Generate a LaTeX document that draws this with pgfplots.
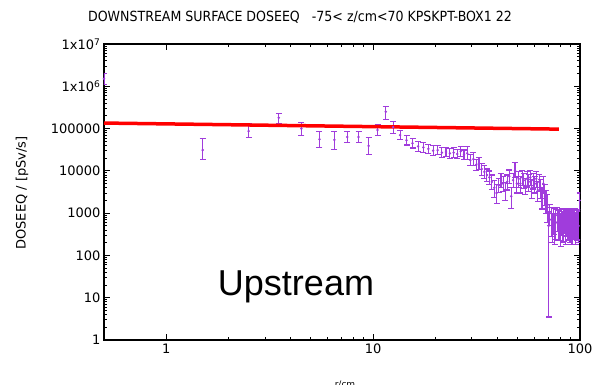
\documentclass[border=0pt]{standalone}
\usepackage{pgfplots}
\pgfplotsset{compat=1.18}
\usepackage{fontspec}
\setmainfont{DejaVu Sans}
\newfontfamily\condfont{DejaVu Sans Condensed}
\newfontfamily\arialfont{Liberation Sans}
\definecolor{dviolet}{RGB}{160,60,220}
\pgfplotstableread{
x y ep em
0.5 1500000 0.33 0.27
1.5 31000 0.9 0.4
2.5 87000 0.55 0.31
3.5 180000 0.28 0.25
4.5 100000 0.4 0.3
5.5 56000 0.55 0.37
6.5 54000 0.6 0.4
7.5 63000 0.38 0.25
8.5 63000 0.38 0.25
9.5 39000 0.6 0.38
10.5 92000 0.33 0.25
11.5 250000 0.36 0.33
12.5 108000 0.37 0.28
13.5 70000 0.28 0.21
14.5 53000 0.3 0.23
15.5 45000 0.3 0.23
16.5 38000 0.3 0.23
17.5 36000 0.3 0.23
18.5 33000 0.3 0.23
19.5 30000 0.3 0.23
20.5 31000 0.3 0.23
21.5 27000 0.3 0.23
22.5 28000 0.3 0.23
23.5 26000 0.3 0.23
24.5 27000 0.3 0.23
25.5 25000 0.3 0.23
26.5 29000 0.3 0.23
27.5 24000 0.3 0.23
28.5 26000 0.45 0.3
29.5 18000 0.35 0.27
30.5 19000 0.4 0.28
31.5 14000 0.35 0.28
32.5 15000 0.4 0.28
33.5 11000 0.38 0.28
34.5 9500 0.4 0.3
35.5 8000 0.38 0.3
36.5 7000 0.42 0.33
37.5 5500 0.45 0.35
38.5 4000 0.5 0.4
39.5 3000 0.6 0.43
40.5 4500 0.45 0.33
41.5 6000 0.42 0.33
42.5 5000 0.45 0.36
43.5 3500 0.5 0.42
44.5 5500 0.45 0.36
45.5 7500 0.4 0.33
46.5 2500 0.6 0.48
47.5 6000 0.42 0.33
48.5 10000 0.6 0.3
49.5 5000 0.5 0.4
50.5 6500 0.45 0.38
51.5 5000 0.5 0.4
52.5 7000 0.45 0.36
53.5 6000 0.45 0.36
54.5 4500 0.5 0.4
55.5 6500 0.45 0.36
56.5 5500 0.5 0.4
57.5 7000 0.45 0.36
58.5 4000 0.55 0.45
59.5 6000 0.45 0.38
60.5 5000 0.5 0.4
61.5 6500 0.45 0.38
62.5 3500 0.6 0.45
63.5 5500 0.5 0.4
64.5 4000 0.55 0.45
65.5 2500 0.6 0.5
66.5 5000 0.5 0.4
67.5 3000 0.6 0.5
68.5 2000 0.7 0.5
69.5 1500 0.8 0.6
70.5 500 1.2 0.993
71.5 1000 0.6 0.5
72.5 700 0.9 0.6
73.5 500 1.0 0.6
74.5 800 0.6 0.6
75.5 450 1.2 0.6
76.5 600 1.0 0.6
77.5 900 0.5 0.6
78.5 550 1.1 0.6
79.5 650 0.9 0.65
80.5 400 1.5 0.6
81.5 750 0.7 0.6
82.5 500 1.2 0.6
83.5 600 1.0 0.65
84.5 850 0.5 0.6
85.5 450 1.3 0.6
86.5 700 0.8 0.6
87.5 550 1.1 0.6
88.5 600 1.0 0.6
89.5 500 1.2 0.6
90.5 800 0.6 0.6
91.5 400 1.5 0.55
92.5 650 0.9 0.6
93.5 600 1.0 0.6
94.5 700 0.8 0.6
95.5 450 1.3 0.6
96.5 550 1.1 0.6
97.5 600 1.0 0.6
98.5 500 1.2 0.6
99.5 2000 0.5 0.4
}\dosedata
\begin{document}
\begin{tikzpicture}[x=1pt,y=1pt]
\useasboundingbox (0,0) rectangle (597,385);
\begin{axis}[
  at={(104pt,45pt)}, anchor=south west,
  scale only axis, width=476pt, height=296pt,
  xmode=log, ymode=log,
  xmin=0.5, xmax=100, ymin=1, ymax=1e7,
  xtick={1,10,100}, xticklabels={1,10,100},
  ytick={1,10,100,1000,10000,100000,1000000,10000000},
  yticklabels={1,10,100,1000,10000,100000,1x10\textsuperscript{6},1x10\textsuperscript{7}},
  tick label style={font=\fontsize{13}{13}\selectfont},
  axis line style={black, line width=1.2pt},
  every tick/.style={black, line width=0.8pt},
  major tick length=6pt, minor tick length=3pt,
  tick align=inside,
  clip=true,
]
\addplot[dviolet, only marks, mark=*, mark size=0.6pt, line width=1.1pt,
  error bars/.cd, y dir=both, y explicit relative,
  error mark=|,
  error mark options={color=dviolet, draw=dviolet, line width=1.1pt, mark size=3pt},
  error bar style={color=dviolet, draw=dviolet, line width=1.1pt}]
  table[x=x, y=y, y error plus=ep, y error minus=em] {\dosedata};
\addplot[red, line width=3.5pt, mark=none] coordinates {(0.5,135000) (79,97000)};
\end{axis}
\node[font=\condfont\fontsize{14}{14}\selectfont, anchor=base] at (300,363) {DOWNSTREAM SURFACE DOSEEQ\ \ \ -75< z/cm<70 KPSKPT-BOX1 22};
\node[font=\fontsize{13}{13}\selectfont, rotate=90] at (22,192) {DOSEEQ / [pSv/s]};
\node[font=\arialfont\fontsize{36}{36}\selectfont, anchor=base] at (296,89) {Upstream};
\node[font=\fontsize{9}{9}\selectfont, anchor=north] at (345,8) {r/cm};
\end{tikzpicture}
\end{document}
